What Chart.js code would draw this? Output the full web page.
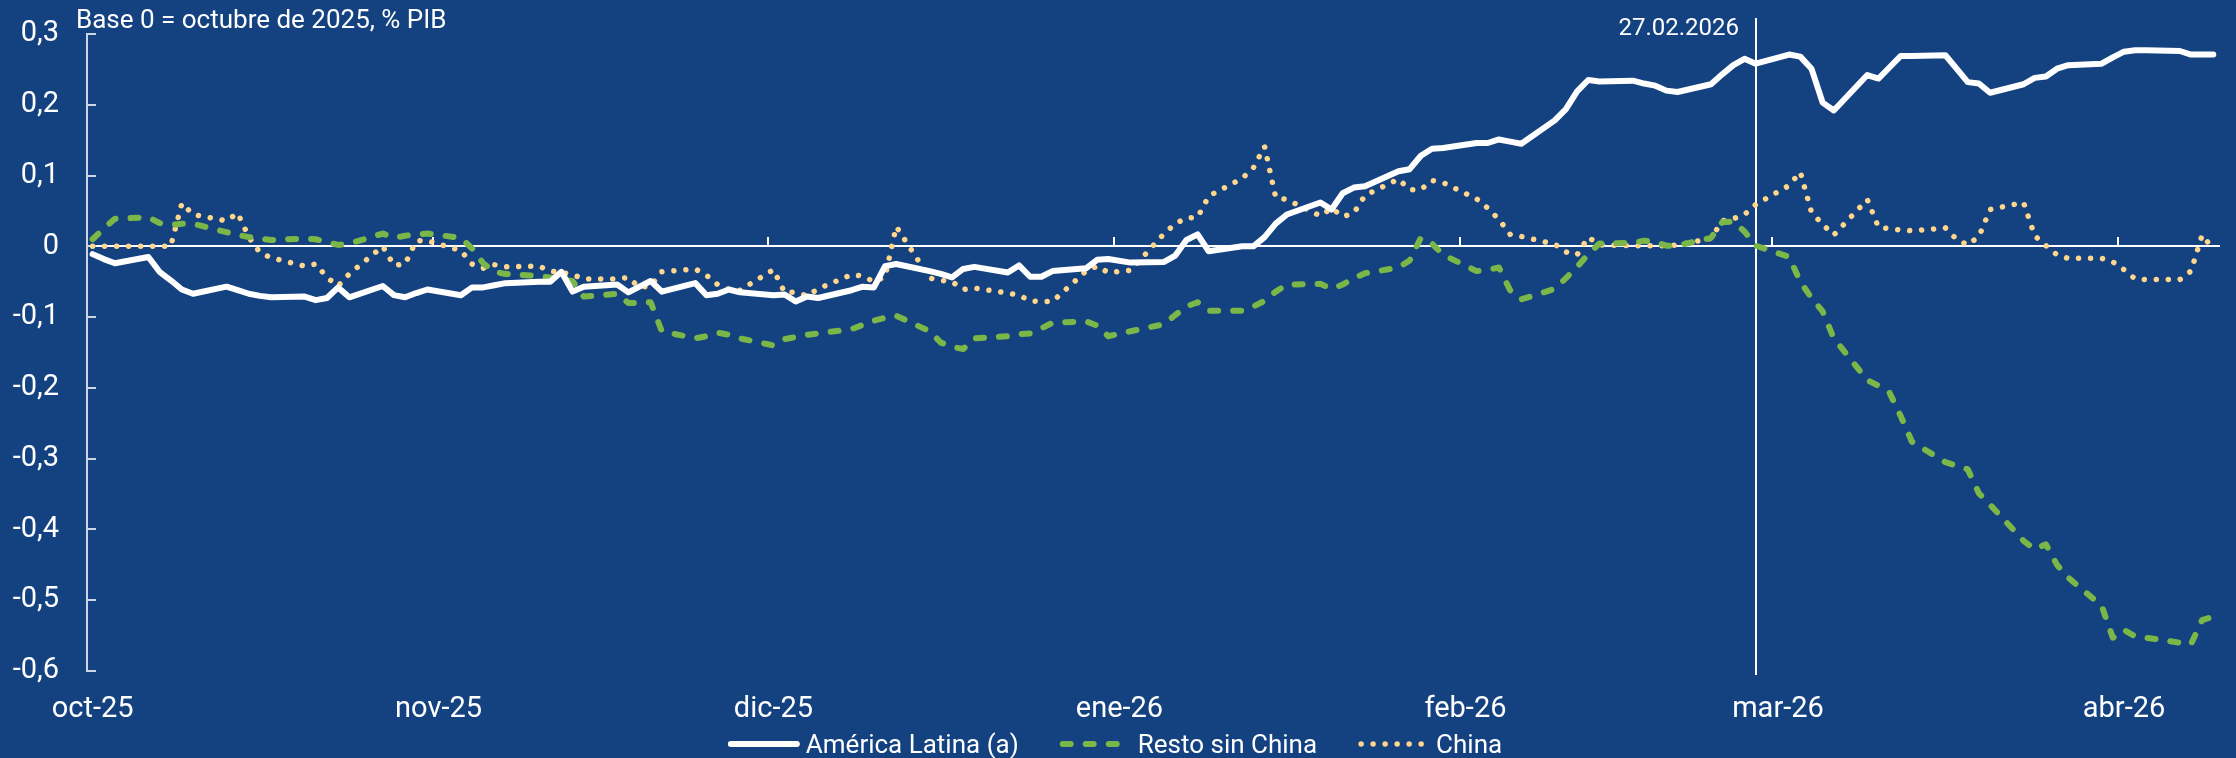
<!DOCTYPE html>
<html lang="es">
<head>
<meta charset="utf-8">
<title>Base 0 = octubre de 2025, % PIB</title>
<script src="https://cdn.jsdelivr.net/npm/chart.js@4.4.1/dist/chart.umd.min.js"></script>
<style>
  html, body { margin: 0; padding: 0; background: #144280; }
  #wrap { width: 2236px; height: 758px; }
</style>
</head>
<body>
<div id="wrap"><canvas id="grafico" width="2236" height="758"></canvas></div>
<script>
// dias habiles, oct-2025 a abr-2026
const fechas = [
  '2025-10-01','2025-10-02','2025-10-03',
  '2025-10-06','2025-10-07','2025-10-08','2025-10-09','2025-10-10',
  '2025-10-13','2025-10-14','2025-10-15','2025-10-16','2025-10-17',
  '2025-10-20','2025-10-21','2025-10-22','2025-10-23','2025-10-24',
  '2025-10-27','2025-10-28','2025-10-29','2025-10-30','2025-10-31',
  '2025-11-03','2025-11-04','2025-11-05','2025-11-06','2025-11-07',
  '2025-11-10','2025-11-11','2025-11-12','2025-11-13','2025-11-14',
  '2025-11-17','2025-11-18','2025-11-19','2025-11-20','2025-11-21',
  '2025-11-24','2025-11-25','2025-11-26','2025-11-27','2025-11-28',
  '2025-12-01','2025-12-02','2025-12-03','2025-12-04','2025-12-05',
  '2025-12-08','2025-12-09','2025-12-10','2025-12-11','2025-12-12',
  '2025-12-15','2025-12-16','2025-12-17','2025-12-18','2025-12-19',
  '2025-12-22','2025-12-23','2025-12-24','2025-12-25','2025-12-26',
  '2025-12-29','2025-12-30','2025-12-31',
  '2026-01-02',
  '2026-01-05','2026-01-06','2026-01-07','2026-01-08','2026-01-09',
  '2026-01-12','2026-01-13','2026-01-14','2026-01-15','2026-01-16',
  '2026-01-19','2026-01-20','2026-01-21','2026-01-22','2026-01-23',
  '2026-01-26','2026-01-27','2026-01-28','2026-01-29','2026-01-30',
  '2026-02-02','2026-02-03','2026-02-04','2026-02-05','2026-02-06',
  '2026-02-09','2026-02-10','2026-02-11','2026-02-12','2026-02-13',
  '2026-02-16','2026-02-17','2026-02-18','2026-02-19','2026-02-20',
  '2026-02-23','2026-02-24','2026-02-25','2026-02-26','2026-02-27',
  '2026-03-02','2026-03-03','2026-03-04','2026-03-05','2026-03-06',
  '2026-03-09','2026-03-10','2026-03-11','2026-03-12','2026-03-13',
  '2026-03-16','2026-03-17','2026-03-18','2026-03-19','2026-03-20',
  '2026-03-23','2026-03-24','2026-03-25','2026-03-26','2026-03-27',
  '2026-03-30','2026-03-31',
  '2026-04-01','2026-04-02','2026-04-03',
  '2026-04-06','2026-04-07','2026-04-08','2026-04-09'
];

const americaLatina = [
  -0.011, -0.018, -0.024, -0.015, -0.036, -0.048, -0.061, -0.067, -0.057, -0.062, -0.067, -0.070,
  -0.072, -0.071, -0.076, -0.073, -0.058, -0.072, -0.056, -0.069, -0.072, -0.066, -0.061,
  -0.069, -0.058, -0.058, -0.055, -0.052, -0.050, -0.050, -0.036, -0.064, -0.057,
  -0.054, -0.065, -0.057, -0.049, -0.064, -0.052, -0.069, -0.067, -0.061, -0.065,
  -0.069, -0.068, -0.078, -0.071, -0.073, -0.062, -0.057, -0.058, -0.028, -0.025,
  -0.035, -0.039, -0.044, -0.032, -0.029, -0.037, -0.027, -0.043, -0.043, -0.035, -0.031, -0.019, -0.018,
  -0.023, -0.022, -0.013, 0.009, 0.017, -0.007, 0.000, 0.000, 0.013, 0.032, 0.045,
  0.062, 0.052, 0.075, 0.083, 0.085, 0.106, 0.109, 0.128, 0.138, 0.139,
  0.146, 0.146, 0.151, 0.148, 0.145, 0.178, 0.194, 0.219, 0.235, 0.233,
  0.234, 0.230, 0.227, 0.220, 0.218, 0.229, 0.243, 0.256, 0.265, 0.258,
  0.271, 0.268, 0.251, 0.203, 0.192, 0.242, 0.237, 0.253, 0.269, 0.269,
  0.270, 0.251, 0.232, 0.230, 0.217, 0.229, 0.238, 0.240, 0.251, 0.256, 0.258, 0.267,
  0.275, 0.277, 0.277, 0.276, 0.271, 0.271, 0.271
];

const restoSinChina = [
  0.010, 0.025, 0.039, 0.041, 0.033, 0.030, 0.032, 0.032, 0.020, 0.016, 0.013, 0.011,
  0.009, 0.011, 0.010, 0.006, 0.002, 0.004, 0.018, 0.012, 0.015, 0.017, 0.018,
  0.012, -0.003, -0.024, -0.036, -0.039, -0.042, -0.044, -0.047, -0.049, -0.071,
  -0.067, -0.080, -0.080, -0.079, -0.120, -0.130, -0.127, -0.122, -0.125, -0.130,
  -0.140, -0.131, -0.128, -0.125, -0.123, -0.117, -0.111, -0.105, -0.101, -0.098,
  -0.120, -0.136, -0.142, -0.145, -0.130, -0.127, -0.124, -0.123, -0.116, -0.108, -0.106, -0.112, -0.127,
  -0.120, -0.110, -0.097, -0.085, -0.079, -0.091, -0.091, -0.085, -0.077, -0.064, -0.054,
  -0.053, -0.060, -0.054, -0.045, -0.038, -0.030, -0.020, 0.012, 0.004, -0.012,
  -0.035, -0.033, -0.030, -0.062, -0.075, -0.060, -0.045, -0.029, -0.011, 0.004,
  0.005, 0.008, 0.006, 0.001, 0.001, 0.012, 0.034, 0.035, 0.021, 0.001,
  -0.015, -0.050, -0.073, -0.092, -0.130, -0.189, -0.197, -0.207, -0.240, -0.276,
  -0.305, -0.310, -0.315, -0.349, -0.365, -0.416, -0.428, -0.421, -0.450, -0.468, -0.508, -0.553,
  -0.542, -0.551, -0.553, -0.560, -0.562, -0.528, -0.523
];

const china = [
  0.000, 0.000, 0.000, 0.000, 0.000, 0.000, 0.061, 0.045, 0.036, 0.047, 0.013, -0.009,
  -0.016, -0.028, -0.025, -0.044, -0.056, -0.039, 0.000, -0.027, -0.025, 0.008, 0.008,
  -0.006, -0.025, -0.031, -0.026, -0.029, -0.028, -0.035, -0.037, -0.040, -0.046,
  -0.046, -0.044, -0.058, -0.056, -0.036, -0.032, -0.041, -0.054, -0.061, -0.062,
  -0.033, -0.065, -0.065, -0.070, -0.060, -0.040, -0.042, -0.050, -0.043, 0.028,
  -0.045, -0.048, -0.050, -0.061, -0.059, -0.066, -0.069, -0.077, -0.078, -0.078, -0.035, -0.028, -0.037,
  -0.034, 0.018, 0.032, 0.040, 0.041, 0.071, 0.096, 0.111, 0.141, 0.069, 0.066,
  0.043, 0.054, 0.042, 0.047, 0.072, 0.095, 0.080, 0.080, 0.093, 0.090,
  0.067, 0.054, 0.038, 0.017, 0.014, 0.003, -0.008, -0.012, 0.013, 0.002,
  0.001, 0.001, 0.001, 0.001, 0.002, 0.011, 0.036, 0.039, 0.045, 0.059,
  0.086, 0.105, 0.048, 0.031, 0.016, 0.066, 0.027, 0.025, 0.023, 0.022,
  0.026, 0.010, 0.002, 0.014, 0.052, 0.062, 0.015, 0.001, -0.012, -0.017, -0.017, -0.022,
  -0.033, -0.046, -0.047, -0.047, -0.035, 0.016, -0.004
];

const meses = ['2025-10-01', '2025-11-01', '2025-12-01', '2026-01-01', '2026-02-01', '2026-03-01', '2026-04-01'];
const etiquetasMes = ['oct-25', 'nov-25', 'dic-25', 'ene-26', 'feb-26', 'mar-26', 'abr-26'];
const yTicks = [0.3, 0.2, 0.1, 0, -0.1, -0.2, -0.3, -0.4, -0.5, -0.6];

const fechaCorte = '2026-02-27';
const etiquetaCorte = '27.02.2026';
const nota = 'Base 0 = octubre de 2025, % PIB';

const FONDO = '#144280';
const EJE = '#cdd5e4';
const FUENTE = 'Roboto, "Noto Sans", sans-serif';

const inicio = Date.UTC(2025, 9, 1);
const dias = f => {
  const [a, m, d] = f.split('-').map(Number);
  return (Date.UTC(a, m - 1, d) - inicio) / 864e5;
};
// cada dato se ubica a mitad del dia
const serie = vals => fechas.map((f, i) => ({ x: dias(f) + 0.5, y: vals[i] }));
const fmt = v => (Math.abs(v) < 1e-9 ? '0' : v.toFixed(1).replace('.', ','));

const fondo = {
  id: 'fondo',
  beforeDraw(chart) {
    const { ctx, width, height } = chart;
    ctx.save();
    ctx.fillStyle = FONDO;
    ctx.fillRect(0, 0, width, height);
    ctx.restore();
  }
};

const marcas = {
  id: 'marcas',
  beforeDatasetsDraw(chart) {
    const { ctx, chartArea: a, scales: { x, y } } = chart;
    ctx.save();
    ctx.lineWidth = 2;

    // marcas del eje y hacia adentro
    ctx.strokeStyle = EJE;
    yTicks.forEach(v => {
      const py = Math.round(y.getPixelForValue(v));
      ctx.beginPath();
      ctx.moveTo(a.left, py);
      ctx.lineTo(a.left + 9, py);
      ctx.stroke();
    });

    // marcas de inicio de mes sobre la linea de cero
    ctx.strokeStyle = '#ffffff';
    const y0 = Math.round(y.getPixelForValue(0));
    meses.slice(1).forEach(m => {
      const px = Math.round(x.getPixelForValue(dias(m)));
      ctx.beginPath();
      ctx.moveTo(px, y0);
      ctx.lineTo(px, y0 - 9);
      ctx.stroke();
    });

    // linea vertical 27.02.2026
    const xc = Math.round(x.getPixelForValue(dias(fechaCorte) + 0.5));
    ctx.beginPath();
    ctx.moveTo(xc, 18);
    ctx.lineTo(xc, a.bottom + 4);
    ctx.stroke();

    ctx.fillStyle = '#ffffff';
    ctx.textBaseline = 'alphabetic';
    ctx.font = '24px ' + FUENTE;
    ctx.textAlign = 'right';
    ctx.fillText(etiquetaCorte, xc - 17, 35);

    ctx.font = '26px ' + FUENTE;
    ctx.textAlign = 'left';
    ctx.fillText(nota, 76, 28);
    ctx.restore();
  }
};

const leyenda = {
  id: 'leyenda',
  afterDraw(chart) {
    const { ctx, width } = chart;
    ctx.save();
    ctx.font = '26px ' + FUENTE;
    const items = chart.data.datasets.map(ds => ({ ds, w: ctx.measureText(ds.label).width }));
    const total = items.reduce((s, it) => s + 76 + it.w, 0) + 43 * (items.length - 1);
    let cx = (width - total) / 2 - 4;
    const cy = 744;
    items.forEach(({ ds, w }) => {
      ctx.beginPath();
      ctx.strokeStyle = ds.borderColor;
      ctx.lineWidth = ds.borderWidth;
      ctx.lineCap = 'round';
      ctx.setLineDash(ds.borderDash || []);
      ctx.moveTo(cx + 3, cy);
      ctx.lineTo(cx + 69, cy);
      ctx.stroke();
      ctx.setLineDash([]);
      ctx.fillStyle = '#ffffff';
      ctx.textAlign = 'left';
      ctx.textBaseline = 'alphabetic';
      ctx.fillText(ds.label, cx + 78, 753);
      cx += 76 + w + 43;
    });
    ctx.restore();
  }
};

new Chart(document.getElementById('grafico'), {
  type: 'line',
  data: {
    datasets: [
      {
        label: 'América Latina (a)',
        data: serie(americaLatina),
        borderColor: '#ffffff',
        borderWidth: 6,
        borderJoinStyle: 'round',
        borderCapStyle: 'round',
        pointRadius: 0
      },
      {
        label: 'Resto sin China',
        data: serie(restoSinChina),
        borderColor: '#7ab648',
        borderWidth: 6,
        borderDash: [8, 15],
        borderJoinStyle: 'round',
        borderCapStyle: 'round',
        pointRadius: 0
      },
      {
        label: 'China',
        data: serie(china),
        borderColor: '#ffd68c',
        borderWidth: 5.5,
        borderDash: [0.01, 12],
        borderJoinStyle: 'round',
        borderCapStyle: 'round',
        pointRadius: 0
      }
    ]
  },
  options: {
    responsive: false,
    animation: false,
    layout: { padding: { left: 0, right: 16, top: 34, bottom: 29 } },
    plugins: {
      legend: { display: false },
      tooltip: { enabled: false }
    },
    scales: {
      x: {
        type: 'linear',
        min: 0,
        max: 191.1,
        afterBuildTicks: s => { s.ticks = meses.map(m => ({ value: dias(m) + 0.5 })); },
        afterFit: s => {
          s.height = 58;
          s.paddingLeft = 0;
          s.paddingRight = 0;
        },
        ticks: {
          autoSkip: false,
          maxRotation: 0,
          padding: 21,
          color: '#ffffff',
          font: { family: FUENTE, size: 29 },
          callback: (v, i) => etiquetasMes[i]
        },
        grid: { display: false, drawTicks: false },
        border: { display: false }
      },
      y: {
        min: -0.6,
        max: 0.3,
        afterBuildTicks: s => { s.ticks = yTicks.map(v => ({ value: v })); },
        afterFit: s => {
          s.width = 87;
          s.paddingTop = 0;
          s.paddingBottom = 0;
        },
        ticks: {
          padding: 28,
          color: '#ffffff',
          font: { family: FUENTE, size: 29 },
          callback: v => fmt(v)
        },
        grid: {
          drawTicks: false,
          lineWidth: 2,
          color: c => (c.tick && Math.abs(c.tick.value) < 1e-9 ? '#ffffff' : 'rgba(0,0,0,0)')
        },
        border: { display: true, color: EJE, width: 2 }
      }
    }
  },
  plugins: [fondo, marcas, leyenda]
});
</script>
</body>
</html>
